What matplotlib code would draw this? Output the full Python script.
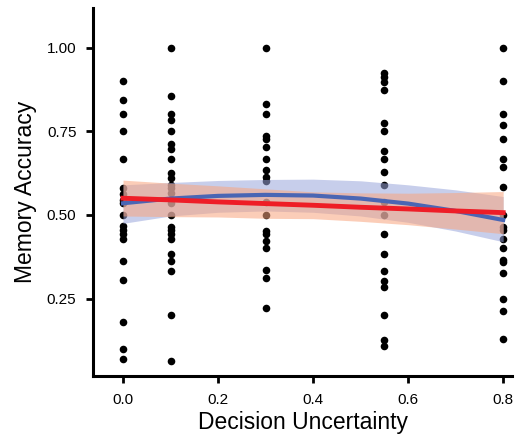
import numpy as np
import matplotlib
matplotlib.use("Agg")
import matplotlib.pyplot as plt

plt.rcParams['font.family'] = ['Liberation Sans', 'DejaVu Sans']

# values, one list per uncertainty level
unc_levels = [0.0, 0.1, 0.3, 0.55, 0.8]
acc_00 = [0.90, 0.843, 0.80, 0.75, 0.667, 0.581, 0.562, 0.545, 0.535, 0.50,
          0.467, 0.455, 0.443, 0.427, 0.363, 0.306, 0.18, 0.10, 0.07]
acc_01 = [1.00, 0.855, 0.80, 0.784, 0.75, 0.711, 0.696, 0.667, 0.624, 0.61,
          0.59, 0.58, 0.567, 0.535, 0.50, 0.465, 0.455, 0.443, 0.427, 0.384,
          0.363, 0.333, 0.20, 0.065]
acc_03 = [1.00, 0.831, 0.80, 0.736, 0.728, 0.702, 0.667, 0.634, 0.614, 0.60,
          0.54, 0.50, 0.453, 0.443, 0.423, 0.40, 0.336, 0.311, 0.222]
acc_055 = [0.923, 0.911, 0.898, 0.873, 0.776, 0.75, 0.692, 0.667, 0.629, 0.588,
           0.54, 0.50, 0.443, 0.384, 0.334, 0.304, 0.284, 0.20, 0.127, 0.11]
acc_08 = [1.00, 0.90, 0.80, 0.769, 0.726, 0.667, 0.642, 0.583, 0.50, 0.465,
          0.455, 0.427, 0.40, 0.366, 0.359, 0.328, 0.25, 0.213, 0.131]
groups = [acc_00, acc_01, acc_03, acc_055, acc_08]

# smoothed fits with confidence bands
fit_x = [0.0, 0.1, 0.2, 0.3, 0.4, 0.5, 0.6, 0.7, 0.8]
quad_fit = [0.535, 0.549, 0.557, 0.560, 0.558, 0.549, 0.534, 0.512, 0.485]
quad_hi = [0.590, 0.597, 0.603, 0.606, 0.607, 0.602, 0.590, 0.575, 0.555]
quad_lo = [0.475, 0.497, 0.508, 0.512, 0.508, 0.497, 0.478, 0.452, 0.420]
lin_fit = [0.550, 0.545, 0.539, 0.534, 0.529, 0.523, 0.518, 0.512, 0.507]
lin_hi = [0.604, 0.595, 0.587, 0.578, 0.569, 0.566, 0.565, 0.567, 0.570]
lin_lo = [0.497, 0.495, 0.494, 0.490, 0.489, 0.481, 0.471, 0.458, 0.444]

x = np.concatenate([[u] * len(g) for u, g in zip(unc_levels, groups)])
y = np.concatenate(groups)

fig = plt.figure(figsize=(5.2, 4.44), dpi=100)
ax = fig.add_axes([0.179, 0.153, 0.806, 0.829])

ax.scatter(x, y, s=30, color='black', zorder=2, linewidths=0)
ax.fill_between(fit_x, quad_lo, quad_hi, color='#9aa6dc', alpha=0.55, lw=0, zorder=3)
ax.fill_between(fit_x, lin_lo, lin_hi, color='#f9a57e', alpha=0.55, lw=0, zorder=4)
ax.plot(fit_x, quad_fit, color='#4a66b4', lw=3, zorder=5)
ax.plot(fit_x, lin_fit, color='#ee1d27', lw=3.5, zorder=6)

ax.set_xlim(-0.063, 0.819)
ax.set_ylim(0.019, 1.118)
ax.set_xticks([0.0, 0.2, 0.4, 0.6, 0.8])
ax.set_yticks([0.25, 0.50, 0.75, 1.00])
ax.set_yticklabels(['0.25', '0.50', '0.75', '1.00'])

for side in ['top', 'right']:
    ax.spines[side].set_visible(False)
for side in ['left', 'bottom']:
    ax.spines[side].set_linewidth(2.2)
ax.tick_params(direction='out', length=5, width=2, labelsize=11, pad=7)

ax.set_xlabel('Decision Uncertainty', fontsize=16.5, labelpad=3)
ax.set_ylabel('Memory Accuracy', fontsize=16.5, labelpad=7)

fig.savefig('out.png', dpi=100)
